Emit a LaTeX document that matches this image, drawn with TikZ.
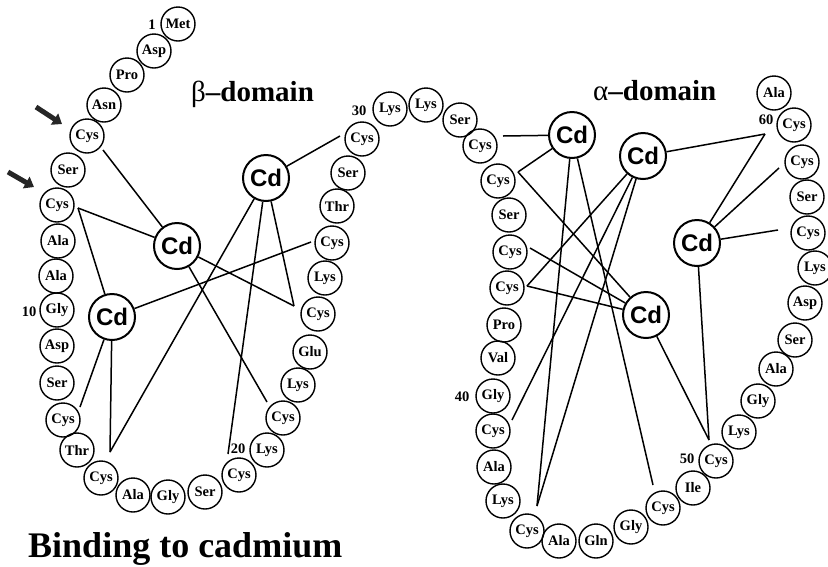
\documentclass[tikz,border=0pt]{standalone}
\usepackage{fontspec}
\setmainfont{Liberation Serif}
\newfontfamily\cdfont{Liberation Sans}
\usetikzlibrary{arrows.meta}
\begin{document}
\begin{tikzpicture}[x=1pt,y=-1pt,
 res/.style={circle,draw,line width=1.4pt,minimum size=34pt,inner sep=0pt,font=\fontsize{14.5}{15}\selectfont\bfseries},
 cd/.style={circle,draw,line width=2pt,minimum size=46pt,inner sep=0pt,font=\fontsize{24}{26}\selectfont\cdfont\bfseries},
 num/.style={font=\fontsize{14.5}{15}\selectfont\bfseries,inner sep=0pt},
 bond/.style={line width=1.5pt},
 title/.style={anchor=base west,inner sep=0pt,font=\fontsize{29}{30}\selectfont\bfseries},
 pointer/.style={line width=5pt,color=black!85,-{Triangle[length=9pt,width=13pt]}}]
\useasboundingbox (0,0) rectangle (828,566);
% residues
\foreach \n/\x/\y/\t in {
 1/178/24/Met,2/154/51/Asp,3/127/75/Pro,4/104/105/Asn,5/87/136/Cys,6/68/170/Ser,
 7/57/205/Cys,8/58/241/Ala,9/56/276/Ala,10/57/310/Gly,11/57/346/Asp,12/57/383/Ser,
 13/63/420/Cys,14/77/450/Thr,15/101/478/Cys,16/133/495/Ala,17/168/497/Gly,18/205/492/Ser,
 19/239/475/Cys,20/267/450/Lys,21/283/418/Cys,22/298/385/Lys,23/310/352/Glu,24/318/314/Cys,
 25/325/278/Lys,26/332/243/Cys,27/337/206/Thr,28/348/173/Ser,29/362/139/Cys,30/390/109/Lys,
 31/426/105/Lys,32/460/120/Ser,33/480/146/Cys,34/498/181/Cys,35/509/215/Ser,36/510/252/Cys,
 37/507/288/Cys,38/504/325/Pro,39/498/358/Val,40/493/396/Gly,41/493/431/Cys,42/494/467/Ala,
 43/503/501/Lys,44/527/531/Cys,45/559/541/Ala,46/596/541/Gln,47/631/527/Gly,48/663/508/Cys,
 49/693/488/Ile,50/716/461/Cys,51/739/432/Lys,52/758/401/Gly,53/776/369/Ala,54/795/340/Ser,
 55/805/303/Asp,56/815/268/Lys,57/808/233/Cys,58/807/197/Ser,59/802/162/Cys,60/794/125/Cys,
 61/774/93/Ala}
 \node[res] (r\n) at (\x,\y) {\t};
% numbers
\node[num] (n1) at (152,25) {1};
\node[num] (n10) at (29,312) {10};
\node[num] (n20) at (238,449) {20};
\node[num] (n30) at (359,111) {30};
\node[num] (n40) at (462,397) {40};
\node[num] (n50) at (687,459) {50};
\node[num] (n60) at (766,120) {60};
% cadmium
\node[cd] (cdb1) at (177,246) {Cd};
\node[cd] (cdb2) at (112,317) {Cd};
\node[cd] (cdb3) at (266,178) {Cd};
\node[cd] (cda1) at (572,135) {Cd};
\node[cd] (cda2) at (643,156) {Cd};
\node[cd] (cda3) at (697,243) {Cd};
\node[cd] (cda4) at (646,315) {Cd};
% bond ends near cysteines
\coordinate (p5) at (103,150);
\coordinate (p7) at (78,208);
\coordinate (p13) at (80,407);
\coordinate (p15) at (110,452);
\coordinate (p19) at (228,454);
\coordinate (p21) at (267,402);
\coordinate (p24) at (294,306);
\coordinate (p26) at (311,242);
\coordinate (p29) at (340,136);
\coordinate (p33) at (503,136);
\coordinate (p34) at (518,172);
\coordinate (p36) at (530,248);
\coordinate (p37) at (527,286);
\coordinate (p41) at (512,420);
\coordinate (p44) at (537,506);
\coordinate (p48) at (653,485);
\coordinate (p50) at (709,440);
\coordinate (p57) at (778,230);
\coordinate (p59) at (779,168);
\coordinate (p60) at (765,134);
% beta bonds
\draw[bond] (cdb1) -- (p5);
\draw[bond] (cdb1) -- (p7);
\draw[bond] (cdb1) -- (p24);
\draw[bond] (cdb1) -- (p21);
\draw[bond] (cdb2) -- (p7);
\draw[bond] (cdb2) -- (p26);
\draw[bond] (cdb2) -- (p13);
\draw[bond] (cdb2) -- (p15);
\draw[bond] (cdb3) -- (p29);
\draw[bond] (cdb3) -- (p24);
\draw[bond] (cdb3) -- (p19);
\draw[bond] (cdb3) -- (p15);
% alpha bonds
\draw[bond] (cda1) -- (p33);
\draw[bond] (cda1) -- (p34);
\draw[bond] (cda1) -- (p44);
\draw[bond] (cda1) -- (p48);
\draw[bond] (cda2) -- (p60);
\draw[bond] (cda2) -- (p37);
\draw[bond] (cda2) -- (p44);
\draw[bond] (cda2) -- (p41);
\draw[bond] (cda3) -- (p60);
\draw[bond] (cda3) -- (p59);
\draw[bond] (cda3) -- (p57);
\draw[bond] (cda3) -- (p50);
\draw[bond] (cda4) -- (p34);
\draw[bond] (cda4) -- (p36);
\draw[bond] (cda4) -- (p37);
\draw[bond] (cda4) -- (p50);
% pointers
\coordinate (a1s) at (36,107);
\coordinate (a1e) at (62,124);
\coordinate (a2s) at (8,172);
\coordinate (a2e) at (34,187);
\draw[pointer] (a1s) -- (a1e);
\draw[pointer] (a2s) -- (a2e);
% titles
\node[title] (tbeta) at (191,101) {{\mdseries β}–domain};
\node[title] (talpha) at (593,100) {{\mdseries α}–domain};
\node[anchor=base west,inner sep=0pt,font=\fontsize{36}{38}\selectfont\bfseries] (tbind) at (28,557) {Binding to cadmium};
\end{tikzpicture}
\end{document}
